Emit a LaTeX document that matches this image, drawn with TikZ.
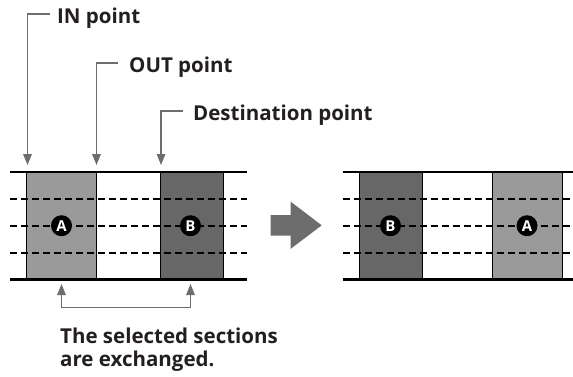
\documentclass[tikz,border=0pt]{standalone}
\usepackage{fontspec}
\setmainfont{Open Sans}
\usetikzlibrary{arrows.meta}
\definecolor{txt}{HTML}{231F20}
\definecolor{lgray}{HTML}{9A9A9A}
\definecolor{dgray}{HTML}{676767}
\definecolor{agray}{HTML}{6D6D6D}
\tikzset{
  lbl/.style={font=\fontsize{20.5}{22.7}\selectfont\bfseries, text=txt, inner sep=0pt, anchor=base west},
  ptr/.style={draw=agray, line width=1.5pt, -{Triangle[length=11pt,width=8.5pt]}},
  ptrboth/.style={draw=agray, line width=1.5pt, {Triangle[length=11pt,width=8.5pt]}-{Triangle[length=11pt,width=8.5pt]}},
  railline/.style={draw=black, line width=2.6pt},
  dashline/.style={draw=black, line width=2.4pt, dash pattern=on 7pt off 4pt},
  sect/.style={draw=black, line width=1.3pt},
  badge/.style={circle, fill=black, minimum size=21pt, inner sep=0pt, text=white, font=\fontsize{15}{15}\selectfont\bfseries},
}
\begin{document}
\begin{tikzpicture}[x=1pt,y=-1pt]
\useasboundingbox (0,0) rectangle (573,376);
% left strip sections
\fill[lgray] (26.7,172) rectangle (96.7,279.5);
\fill[dgray] (160.7,172) rectangle (223.3,279.5);
\draw[sect] (26.7,172) -- (26.7,279.5) (96.7,172) -- (96.7,279.5)
            (160.7,172) -- (160.7,279.5) (223.3,172) -- (223.3,279.5);
% right strip sections
\fill[dgray] (359.3,172) rectangle (422.7,279.5);
\fill[lgray] (492.7,172) rectangle (562.7,279.5);
\draw[sect] (359.3,172) -- (359.3,279.5) (422.7,172) -- (422.7,279.5)
            (492.7,172) -- (492.7,279.5) (562.7,172) -- (562.7,279.5);
% dashed lines
\foreach \yy in {199,225.7,252.7} {
  \draw[dashline] (10,\yy) -- (247,\yy);
  \draw[dashline] (342.7,\yy) -- (573,\yy);
}
% rails
\draw[railline] (10,172) -- (247,172) (10,279.5) -- (247,279.5);
\draw[railline] (342.7,172) -- (573,172) (342.7,279.5) -- (573,279.5);
% badges
\node[badge] (a1) at (61.5,225.7) {A};
\node[badge] (b1) at (190.5,225.7) {B};
\node[badge] (b2) at (390.5,225.7) {B};
\node[badge] (a2) at (527,225.7) {A};
% big arrow
\fill[agray] (270.7,215) -- (290.7,215) -- (290.7,201.7) -- (321.7,225.3)
   -- (290.7,248.8) -- (290.7,235.5) -- (270.7,235.5) -- cycle;
% labels
\node[lbl] (intxt) at (57,23) {IN point};
\node[lbl] (outtxt) at (129,72.5) {OUT point};
\node[lbl] (desttxt) at (193,120) {Destination point};
\coordinate (inL) at (50,14);
\coordinate (outL) at (118,63);
\coordinate (destL) at (183,111);
\coordinate (inA) at (27.5,165);
\coordinate (outA) at (96.5,165);
\coordinate (destA) at (161,165);
\draw[ptr] (inL) -| (inA);
\draw[ptr] (outL) -| (outA);
\draw[ptr] (destL) -| (destA);
% bottom bracket
\coordinate (selA) at (61.5,284);
\coordinate (selB) at (190.5,284);
\coordinate (brkA) at (61.5,307.7);
\coordinate (brkB) at (190.5,307.7);
\draw[ptrboth] (selA) -- (brkA) -- (brkB) -- (selB);
\node[lbl, align=left] (seltxt) at (60,366) {The selected sections\\are exchanged.};
\end{tikzpicture}
\end{document}
